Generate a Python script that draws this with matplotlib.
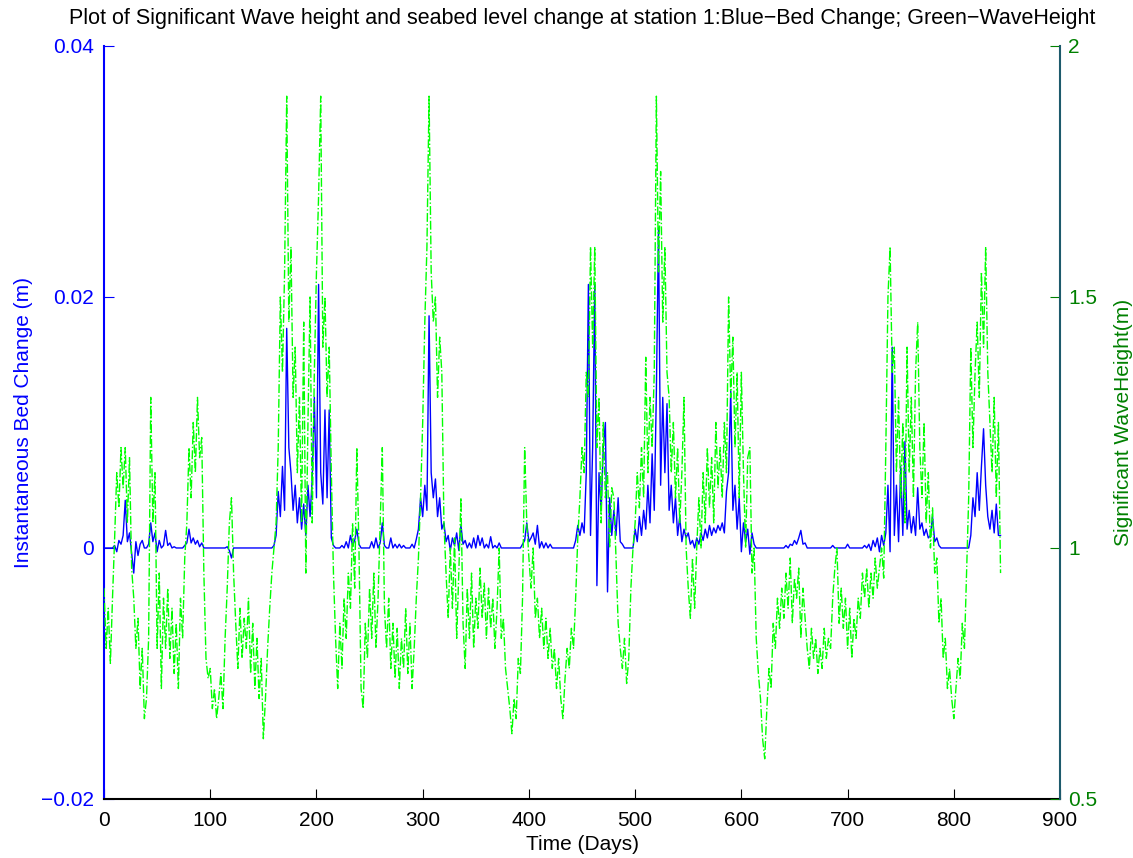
import numpy as np
import matplotlib.pyplot as plt
from matplotlib.ticker import FuncFormatter

plt.rcParams['font.family'] = ['Liberation Sans', 'DejaVu Sans']

# Sampling interval of both records (days)
day_step = 2

# Significant wave height (m), one value every 2 days from day 0
wave_height = [
    0.92, 0.80, 0.88, 0.77, 0.90, 1.02, 1.15, 1.08, 1.20, 1.12,
    1.20, 1.05, 1.18, 0.96, 0.90, 0.80, 0.86, 0.72, 0.80, 0.66,
    0.70, 0.82, 1.30, 1.05, 1.15, 0.80, 0.95, 0.72, 0.90, 0.80,
    0.92, 0.78, 0.88, 0.75, 0.85, 0.72, 0.90, 0.82, 0.98, 1.05,
    1.20, 1.10, 1.25, 1.15, 1.30, 1.18, 1.22, 0.95, 0.78, 0.74,
    0.76, 0.68, 0.72, 0.66, 0.70, 0.75, 0.68, 0.82, 0.92, 1.05,
    1.10, 0.95, 0.85, 0.76, 0.88, 0.78, 0.86, 0.80, 0.90, 0.75,
    0.85, 0.72, 0.82, 0.70, 0.78, 0.62, 0.70, 0.80, 0.88, 0.95,
    1.00, 1.05, 1.20, 1.50, 1.35, 1.55, 1.90, 1.45, 1.60, 1.30,
    1.40, 1.15, 1.30, 1.05, 1.45, 0.95, 1.25, 1.50, 1.05, 1.35,
    1.55, 1.70, 1.90, 1.40, 1.50, 1.30, 1.40, 1.15, 0.95, 0.82,
    0.72, 0.85, 0.76, 0.90, 0.82, 0.95, 0.88, 1.05, 0.92, 1.20,
    1.00, 0.72, 0.68, 0.85, 0.78, 0.92, 0.82, 0.95, 0.80, 0.90,
    1.05, 1.20, 0.88, 0.80, 0.90, 0.76, 0.85, 0.74, 0.84, 0.72,
    0.82, 0.76, 0.88, 0.75, 0.85, 0.72, 0.80, 0.90, 0.98, 1.10,
    1.25, 1.45, 1.60, 1.90, 1.55, 1.45, 1.50, 1.30, 1.42, 1.35,
    1.05, 0.95, 0.86, 1.00, 0.88, 1.02, 0.82, 0.95, 1.10, 0.85,
    0.76, 0.92, 0.82, 0.95, 0.80, 0.90, 0.84, 0.96, 0.86, 0.93,
    0.82, 0.92, 0.84, 0.90, 0.80, 0.88, 1.00, 0.82, 0.86, 0.76,
    0.72, 0.68, 0.63, 0.70, 0.66, 0.78, 0.75, 0.90, 1.20, 1.05,
    0.98, 0.92, 1.00, 0.86, 0.90, 0.82, 0.88, 0.80, 0.86, 0.78,
    0.84, 0.76, 0.80, 0.72, 0.78, 0.70, 0.66, 0.74, 0.80, 0.76,
    0.84, 0.80, 0.90, 1.02, 1.10, 1.20, 1.15, 1.35, 1.30, 1.60,
    1.40, 1.60, 1.20, 1.30, 1.05, 1.25, 1.10, 1.15, 1.00, 1.12,
    1.10, 0.98, 0.85, 0.80, 0.76, 0.82, 0.73, 0.78, 0.92, 1.00,
    1.05, 1.15, 1.08, 1.20, 1.10, 1.38, 1.15, 1.30, 1.20, 1.35,
    1.90, 1.55, 1.75, 1.45, 1.60, 1.35, 1.30, 1.15, 1.25, 1.10,
    1.20, 1.05, 1.15, 1.30, 1.00, 0.92, 0.86, 0.98, 0.88, 1.00,
    1.10, 1.00, 1.15, 1.05, 1.20, 1.08, 1.18, 1.05, 1.25, 1.12,
    1.20, 1.10, 1.25, 1.15, 1.50, 1.30, 1.42, 1.20, 1.35, 1.10,
    1.35, 1.15, 1.00, 1.18, 1.20, 0.95, 1.00, 0.82, 0.75, 0.70,
    0.62, 0.58, 0.68, 0.76, 0.72, 0.85, 0.80, 0.90, 0.84, 0.92,
    0.86, 0.95, 0.88, 0.98, 0.85, 0.94, 0.90, 0.96, 0.82, 0.92,
    0.86, 0.80, 0.76, 0.84, 0.78, 0.82, 0.75, 0.80, 0.76, 0.84,
    0.78, 0.82, 0.80, 0.90, 0.96, 1.00, 0.85, 0.92, 0.84, 0.90,
    0.80, 0.88, 0.78, 0.86, 0.82, 0.90, 0.86, 0.95, 0.90, 0.96,
    0.88, 0.95, 0.90, 0.98, 0.92, 0.96, 1.00, 0.94, 1.20, 1.50,
    1.60, 1.35, 1.40, 1.15, 1.30, 1.10, 1.25, 1.05, 1.40, 1.15,
    1.30, 1.10, 1.35, 1.45, 1.20, 1.10, 1.25, 1.05, 1.15, 1.00,
    1.08, 0.95, 0.98, 0.85, 0.90, 0.78, 0.82, 0.72, 0.76, 0.70,
    0.66, 0.72, 0.78, 0.74, 0.85, 0.80, 0.95, 1.10, 1.40, 1.20,
    1.35, 1.45, 1.30, 1.55, 1.40, 1.60, 1.35, 1.25, 1.15, 1.30,
    1.10, 1.25, 0.95,
]

# Instantaneous bed change (mm), same sampling
bed_change_mm = [
    0, 0, 0, 0, 0, 0.2, -0.3, 0.6, 0.3, 1.0,
    3.8, 0.5, 1.2, -0.4, -2.0, 0.5, -0.6, 0.3, 0.6, 0,
    0, 0.3, 2.0, 0.5, 1.2, -0.3, 0.6, 0, 0.2, 1.4,
    0.2, 0.4, 0, 0.1, 0, 0, 0, 0, 0.2, 0.4,
    1.5, 0.4, 0.8, 0.3, 0.6, 0.1, 0.4, 0, 0, 0,
    0, 0, 0, 0, 0, 0, 0, 0, 0.1, -0.2,
    -0.8, 0, 0, 0, 0, 0, 0, 0, 0, 0,
    0, 0, 0, 0, 0, 0, 0, 0, 0, 0,
    0.2, 1.0, 4.5, 2.5, 6.5, 3.0, 17.5, 8.0, 6.0, 3.0,
    5.0, 2.0, 4.0, 1.5, 3.5, 1.0, 5.0, 2.5, 5.5, 12.0,
    4.0, 21.0, 6.0, 3.5, 11.0, 4.0, 11.0, 0.8, 0.2, 0,
    0, 0, 0.2, 0, 0.5, 0, 1.0, 0.2, 0.6, 1.5,
    0.3, 0, 0, 0, 0, 0, 0.5, 0, 0.8, 0,
    0.4, 2.0, 0.2, 0, 0, 0.8, 0, 0.3, 0, 0.3,
    0, 0.2, 0, 0, 0, 0.3, 0, 0.7, 1.5, 4.0,
    2.5, 5.0, 3.0, 18.5, 6.0, 4.0, 5.5, 2.5, 4.0, 1.5,
    2.0, 0.5, 1.0, -0.2, 0.8, 0.2, 1.2, -0.2, 1.8, 0.3,
    0.6, 0, 0.4, 0, 0.8, 0, 1.0, 0.2, 0.8, 0,
    0.3, 0, 0.9, 0, 0.2, 0, 0.4, 0, 0, 0,
    0, 0, 0, 0, 0, 0, 0, 0.3, 0.6, 2.0,
    0.5, 0.8, 1.2, 0.3, 1.8, 0, 0.5, 0, 0.4, 0,
    0.3, 0, 0, 0, 0, 0, 0, 0, 0, 0,
    0, 0, 0.6, 1.8, 1.0, 2.0, 1.2, 6.0, 21.0, 1.0,
    8.0, 21.0, -3.0, 6.0, 3.0, 8.0, 10.0, -3.5, 4.0, 1.0,
    3.0, 1.0, 4.0, 0.5, 0.3, 0, 0, 0, 0, 0,
    1.5, 0.5, 2.5, 1.0, 3.0, 1.5, 5.0, 2.0, 7.5, 3.0,
    12.5, 25.5, 5.0, 12.0, 6.0, 11.5, 3.0, 5.0, 2.0, 4.0,
    1.0, 2.5, 0.5, 1.5, 0.8, 1.2, 0.3, 0.6, 0, 0.8,
    0.3, 1.2, 0.6, 1.5, 0.8, 1.8, 1.0, 1.6, 1.2, 1.8,
    1.4, 2.0, 1.2, 4.5, 6.0, 12.5, 3.0, 5.0, 1.5, 4.0,
    -0.3, 2.0, 0.5, 1.5, -0.5, 1.2, 0.3, 0, 0, 0,
    0, 0, 0, 0, 0, 0, 0, 0, 0, 0,
    0, 0.2, 0, 0.3, 0.2, 0.6, 0.3, 0.8, 1.4, 0.3,
    0.4, 0, 0, 0, 0, 0, 0, 0, 0, 0,
    0, 0, 0, 0.2, 0, 0, 0, 0, 0, 0,
    0.3, 0, 0, 0, 0, 0, 0, 0, 0.2, 0,
    0.3, -0.2, 0.6, 0.1, 0.8, -0.3, 1.0, 0.2, 1.2, 5.0,
    -0.3, 16.0, 1.0, 5.0, 0.5, 6.5, 1.0, 8.5, 1.5, 3.0,
    1.2, 2.5, 1.0, 4.8, 1.5, 2.0, 1.0, 1.5, 0.8, 1.0,
    2.5, 0.5, 0.8, 0.2, 0, 0, 0, 0, 0, 0,
    0, 0, 0, 0, 0, 0, 0, 0, 1.0, 4.0,
    2.5, 6.0, 3.0, 6.5, 9.5, 5.0, 2.5, 1.5, 3.0, 1.2,
    3.5, 1.0, 1.0,
]

days = np.arange(len(wave_height)) * day_step
bed_change = np.array(bed_change_mm) * 1e-3

title = ('Plot of Significant Wave height and seabed level change at station 1:'
         'Blue\u2212Bed Change; Green\u2212WaveHeight')


def matlab_fmt(v, pos):
    # %g style label with a proper minus sign
    return ('%g' % v).replace('-', '\u2212')


fig = plt.figure(figsize=(11.33, 8.58), dpi=100)
ax1 = fig.add_axes([0.0918, 0.0688, 0.8438, 0.8776])
ax2 = ax1.twinx()

ax1.plot(days, bed_change, color='#0000ff', linewidth=1.0)
ax2.plot(days, wave_height, color='#00ff00', linestyle='-.', linewidth=1.0)

ax1.set_xlim(0, 900)
ax1.set_ylim(-0.02, 0.04)
ax2.set_ylim(0.5, 2.0)
ax1.set_xticks(np.arange(0, 901, 100))
ax1.set_yticks([-0.02, 0, 0.02, 0.04])
ax2.set_yticks([0.5, 1, 1.5, 2])
ax1.yaxis.set_major_formatter(FuncFormatter(matlab_fmt))
ax2.yaxis.set_major_formatter(FuncFormatter(matlab_fmt))

blue = '#0000ff'
dgreen = '#008000'
for ax in (ax1, ax2):
    ax.spines['top'].set_visible(False)
ax1.spines['right'].set_visible(False)
ax2.spines['left'].set_visible(False)
ax2.spines['bottom'].set_visible(False)
ax1.spines['left'].set_color(blue)
ax1.spines['left'].set_linewidth(1.5)
ax1.spines['bottom'].set_linewidth(1.5)
ax2.spines['right'].set_color('#1d5a6c')
ax2.spines['right'].set_linewidth(1.5)

ax1.tick_params(axis='y', direction='in', length=7, pad=7, colors=blue, labelsize=15)
ax1.tick_params(axis='x', direction='in', length=7, pad=9, labelsize=15)
ax2.tick_params(axis='y', direction='in', length=7, pad=6, colors=dgreen, labelsize=15)

ax1.set_xlabel('Time (Days)', fontsize=15, labelpad=3)
ax1.set_ylabel('Instantaneous Bed Change (m)', fontsize=15, color=blue, labelpad=6)
ax2.set_ylabel('Significant WaveHeight(m)', fontsize=15, color=dgreen, labelpad=12)
ax1.set_title(title, fontsize=15.5, pad=16)

fig.savefig('out.png', dpi=100)
